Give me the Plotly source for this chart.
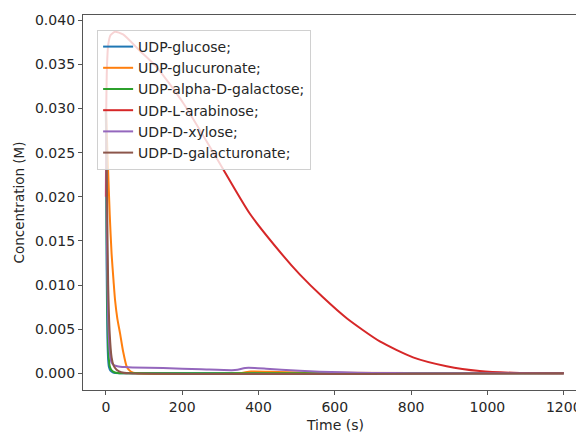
import plotly.graph_objects as go

# ---- data ----
names = ["UDP-glucose;", "UDP-glucuronate;", "UDP-alpha-D-galactose;",
         "UDP-L-arabinose;", "UDP-D-xylose;", "UDP-D-galacturonate;"]
colors = ["#1f77b4", "#ff7f0e", "#2ca02c", "#d62728", "#9467bd", "#8c564b"]

t_glucose = [0, 2, 4, 6, 8, 12, 18, 25, 40, 1200]
c_glucose = [0.030, 0.012, 0.004, 0.0015, 0.0007, 0.0003, 0.0001, 0.00002, 0.0, 0.0]

t_glucuronate = [0, 5, 10, 15, 20, 24, 30, 37, 45, 55, 65, 80, 350, 380, 450, 550, 1200]
c_glucuronate = [0.030, 0.024, 0.018, 0.0135, 0.0105, 0.0083, 0.0062, 0.00455, 0.0025, 0.0007, 0.0002, 0.0,
                 0.0, 0.0002, 0.00015, 0.00005, 0.0]

t_galactose = [0, 2, 4, 6, 8, 10, 14, 20, 30, 50, 1200]
c_galactose = [0.030, 0.016, 0.007, 0.003, 0.0015, 0.0008, 0.0004, 0.00015, 0.00003, 0.0, 0.0]

t_arabinose = [0, 1, 3, 6, 12, 24, 45, 90, 133, 203, 290, 377, 465, 508, 569, 632, 718,
               805, 893, 980, 1068, 1200]
c_arabinose = [0.020, 0.030, 0.035, 0.0372, 0.0383, 0.0387, 0.0384, 0.0365, 0.0347, 0.0306,
               0.0244, 0.0181, 0.0133, 0.0112, 0.0086, 0.0062, 0.0036, 0.0018, 0.0008,
               0.00025, 0.00005, 0.0]

t_xylose = [0, 3, 6, 10, 15, 22, 30, 50, 70, 150, 250, 330, 345, 365, 390, 420, 460, 508,
            560, 620, 700, 800, 1200]
c_xylose = [0.030, 0.014, 0.006, 0.0025, 0.0012, 0.0009, 0.0008, 0.0007, 0.00065, 0.00058,
            0.00045, 0.00035, 0.0004, 0.0006, 0.0006, 0.00052, 0.0004, 0.00028, 0.00018,
            0.0001, 0.00004, 0.0, 0.0]

t_galacturonate = [0, 3, 6, 10, 15, 20, 28, 40, 60, 1200]
c_galacturonate = [0.030, 0.020, 0.010, 0.0045, 0.0018, 0.0009, 0.0004, 0.00012, 0.0, 0.0]

series_t = [t_glucose, t_glucuronate, t_galactose, t_arabinose, t_xylose, t_galacturonate]
series_c = [c_glucose, c_glucuronate, c_galactose, c_arabinose, c_xylose, c_galacturonate]

x_ticks = [0, 200, 400, 600, 800, 1000, 1200]
y_ticks = [0.000, 0.005, 0.010, 0.015, 0.020, 0.025, 0.030, 0.035, 0.040]

fig = go.Figure()
for name, col, t, c in zip(names, colors, series_t, series_c):
    fig.add_trace(go.Scatter(x=t, y=c, mode="lines", name=name,
                             line=dict(color=col, width=2, shape="spline", smoothing=0.6)))

axis_common = dict(showgrid=False, zeroline=False, showline=True, linecolor="#555555",
                   linewidth=1.3, ticks="outside", ticklen=4, tickcolor="#555555",
                   automargin=False,
                   tickfont=dict(family="DejaVu Sans", size=14, color="#262626"))

# page body adds an 8px offset; margins compensate so the plot area sits at
# x 83..587, y 15..390 in the browser window
fig.update_layout(
    width=584, height=432,
    margin=dict(l=75, r=5, t=7, b=50, autoexpand=False),
    paper_bgcolor="white", plot_bgcolor="white",
    font=dict(family="DejaVu Sans", size=12, color="#262626"),
    showlegend=True,
    legend=dict(x=0.028, y=0.96, xanchor="left", yanchor="top",
                bgcolor="rgba(255,255,255,0.8)", bordercolor="#d0d0d0", borderwidth=1,
                font=dict(family="DejaVu Sans", size=14, color="#262626"),
                tracegroupgap=0),
    xaxis=dict(range=[-60, 1261], tickvals=x_ticks, ticktext=[str(v) for v in x_ticks],
               mirror=True, **axis_common),
    yaxis=dict(range=[-0.0019, 0.0406], tickvals=y_ticks,
               ticktext=[f"{v:.3f}" for v in y_ticks], **axis_common),
    annotations=[
        dict(text="Time (s)", xref="paper", yref="paper", x=0.5, y=-0.092,
             xanchor="center", yanchor="middle", showarrow=False,
             font=dict(family="DejaVu Sans", size=14, color="#262626")),
        dict(text="Concentration (M)", xref="paper", yref="paper", x=-0.127, y=0.5,
             xanchor="center", yanchor="middle", textangle=-90, showarrow=False,
             font=dict(family="DejaVu Sans", size=13.5, color="#262626")),
    ],
)

fig.write_html("out.html")
